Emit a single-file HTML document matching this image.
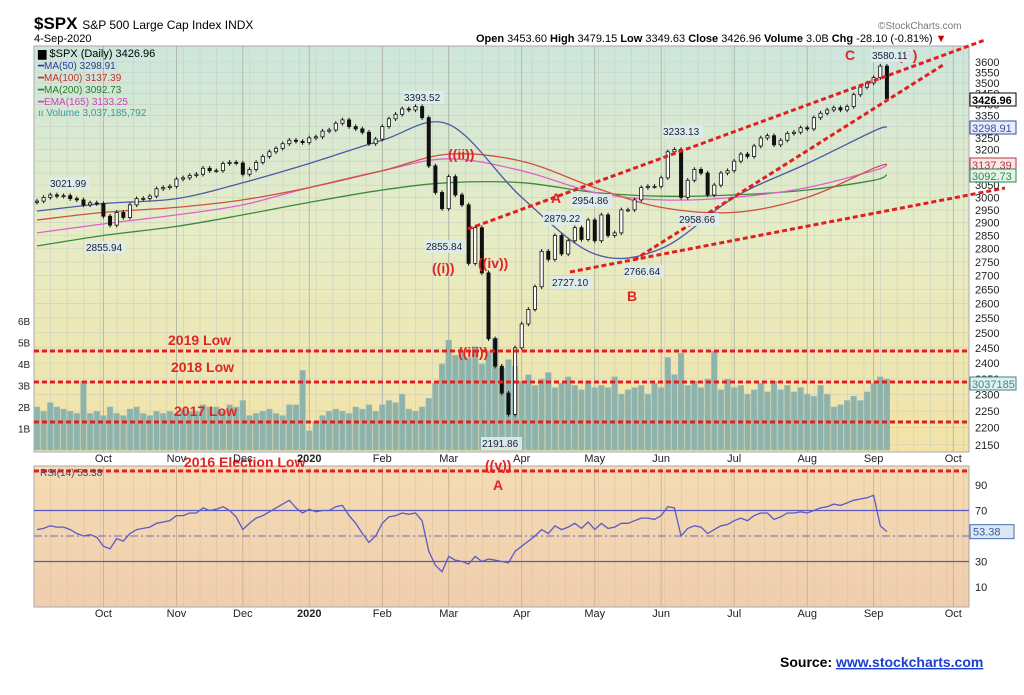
<!DOCTYPE html>
<html><head><meta charset="utf-8"><style>
body{margin:0;background:#fff;width:1024px;height:690px;overflow:hidden;font-family:"Liberation Sans",sans-serif}
svg text{font-family:"Liberation Sans",sans-serif}
</style></head><body>
<svg id="c" width="1024" height="690" viewBox="0 0 1024 690">
<defs>
<linearGradient id="gm" x1="0" y1="0" x2="0" y2="1"><stop offset="0" stop-color="#cce6dd"/><stop offset="0.45" stop-color="#e6ecc6"/><stop offset="1" stop-color="#f3e3a6"/></linearGradient>
<linearGradient id="gr" x1="0" y1="0" x2="0" y2="1"><stop offset="0" stop-color="#f4dcb4"/><stop offset="1" stop-color="#f0cdae"/></linearGradient>
</defs>
<rect x="34" y="46" width="935" height="406" fill="url(#gm)" stroke="#aaa"/>
<rect x="34" y="466" width="935" height="141" fill="url(#gr)" stroke="#aaa"/>
<g id="grid"></g><g id="vol"></g><g id="ma"></g><g id="candles"></g><g id="rsi"></g><g id="ann"></g><g id="axes"></g>
<text x="34" y="29" font-size="17" font-weight="bold">$SPX <tspan font-size="12" font-weight="normal">S&amp;P 500 Large Cap Index  INDX</tspan></text>
<text x="34" y="42" font-size="11">4-Sep-2020</text>
<text x="476" y="42" font-size="11"><tspan font-weight="bold">Open</tspan> 3453.60 <tspan font-weight="bold">High</tspan> 3479.15 <tspan font-weight="bold">Low</tspan> 3349.63 <tspan font-weight="bold">Close</tspan> 3426.96 <tspan font-weight="bold">Volume</tspan> 3.0B <tspan font-weight="bold">Chg</tspan> -28.10 (-0.81%) <tspan fill="#c00">▼</tspan></text>
<text x="878" y="29" font-size="10" fill="#777">©StockCharts.com</text>
<g font-size="11">
<text x="38" y="57" font-family="Liberation Mono" font-size="11">▆ $SPX (Daily) 3426.96</text>
<text x="38" y="69" fill="#2a3a9a" font-size="10">━MA(50) 3298.91</text>
<text x="38" y="81" fill="#c03030" font-size="10">━MA(100) 3137.39</text>
<text x="38" y="93" fill="#2a7a2a" font-size="10">━MA(200) 3092.73</text>
<text x="38" y="105" fill="#d040c0" font-size="10">━EMA(165) 3133.25</text>
<text x="38" y="116" fill="#3a9aa0" font-size="10">ıı Volume 3,037,185,792</text>
</g>
<text x="40" y="476" font-size="10" fill="#447">RSI(14) 53.38</text>
<text x="780" y="667" font-size="14" font-weight="bold">Source: <tspan fill="#1a3fd0" text-decoration="underline">www.stockcharts.com</tspan></text>
</svg>
<script>
const closes=[2985,3000,3010,3005,3007,2995,2990,2970,2978,2975,
2925,2890,2940,2920,2970,2995,2996,3005,3035,3040,3045,
3075,3080,3090,3095,3120,3110,3110,3140,3145,3142,
3095,3115,3145,3170,3190,3205,3225,3240,3235,3230,
3250,3255,3280,3285,3315,3330,3300,3290,3275,3225,3245,
3300,3335,3355,3380,3375,3390,3340,3130,3020,2955,
3085,3010,2970,2745,2880,2710,2480,2390,2305,2240,2450,
2530,2580,2660,2790,2760,2850,2780,2830,2880,2835,2910,
2830,2930,2850,2860,2950,2950,2990,3040,3045,3045,
3080,3190,3200,3000,3070,3115,3100,3010,3050,3100,3110,
3150,3180,3170,3215,3250,3260,3220,3240,3270,3275,3295,
3290,3340,3360,3375,3385,3375,3390,3445,3480,3500,
3525,3580,3427];
const volumes=[2.0,1.8,2.2,2.0,1.9,1.8,1.7,3.2,1.7,1.8,
1.6,2.0,1.7,1.6,1.9,2.0,1.7,1.6,1.8,1.7,1.8,
1.7,1.9,1.8,1.8,2.1,2.0,2.0,1.8,2.1,2.0,
2.3,1.6,1.7,1.8,1.9,1.7,1.6,2.1,2.1,3.7,
0.9,1.3,1.6,1.8,1.9,1.8,1.7,2.0,1.9,2.1,1.8,
2.1,2.3,2.2,2.6,1.9,1.8,2.0,2.4,3.1,4.0,
5.1,4.4,4.6,4.3,4.8,4.0,4.6,5.2,3.8,4.2,3.9,
3.2,3.5,3.0,3.3,3.6,2.9,3.1,3.4,3.0,2.8,3.2,
2.9,3.0,2.9,3.4,2.6,2.8,2.9,3.0,2.6,3.1,
2.9,4.3,3.5,4.5,3.0,3.2,2.9,3.3,4.6,2.8,3.3,
2.9,3.0,2.6,2.8,3.1,2.7,3.2,2.8,3.0,2.7,2.9,
2.6,2.5,3.0,2.6,2.0,2.1,2.3,2.5,2.3,2.7,
3.1,3.4,3.3];
const rsiValues=[55,56,58,57,57,55,52,50,51,49,
42,40,48,46,52,55,56,57,60,61,62,
66,66,68,68,72,70,71,73,70,65,
55,60,64,66,69,72,75,78,72,68,
71,69,70,70,73,74,66,60,52,45,50,
60,65,66,68,67,68,62,38,27,22,
34,31,30,28,34,30,32,31,30,29,38,
42,46,50,55,52,58,55,57,60,56,61,
55,60,56,57,60,60,62,64,64,63,
66,73,72,50,56,58,57,52,55,58,59,
62,64,62,66,68,68,63,65,68,68,69,
68,70,72,73,75,74,76,78,79,80,
82,58,53.4];
const maIdx=[0,10,21,31,41,52,62,73,84,94,105,116,126,128];
const ma50=[2945,2975,2995,3060,3140,3240,3310,3000,2780,2800,3000,3140,3280,3299];
const ma100=[2910,2940,2960,2990,3040,3110,3180,3150,3040,2960,2940,3000,3120,3137];
const ma200=[2810,2850,2885,2930,2980,3030,3060,3060,3020,3005,3010,3030,3070,3093];
const ema165=[2860,2895,2930,2970,3040,3110,3160,3110,3020,2990,3000,3040,3110,3133];
const priceTicks=[3600,3550,3500,3450,3400,3350,3300,3250,3200,3150,3100,3050,3000,2950,2900,2850,2800,2750,2700,2650,2600,2550,2500,2450,2400,2350,2300,2250,2200,2150];
const volTicks=[1,2,3,4,5,6];
const rsiTicks=[90,70,30,10];
const months=["Oct","Nov","Dec","2020","Feb","Mar","Apr","May","Jun","Jul","Aug","Sep","Oct"];
const monthIdx=[10,21,31,41,52,62,73,84,94,105,116,126,138];

const NS="http://www.w3.org/2000/svg";
const X0=37,STEP=6.64;
const xs=i=>X0+i*STEP;
const py=p=>62+(Math.log10(3600)-Math.log10(p))*1710;
const vy=v=>450-v*21.5;
const ry=v=>485+(90-v)*1.275;
function mk(tag,attrs,parent,txt){const e=document.createElementNS(NS,tag);for(const k in attrs)e.setAttribute(k,attrs[k]);if(txt!==undefined)e.textContent=txt;document.getElementById(parent).appendChild(e);return e;}

// grid
for(let x=34+16.6;x<969;x+=16.6){mk('line',{x1:x,y1:46,x2:x,y2:452,stroke:'#c9cfc0','stroke-width':0.6},'grid');mk('line',{x1:x,y1:466,x2:x,y2:607,stroke:'#dcc2a4','stroke-width':0.6},'grid');}
priceTicks.forEach(t=>{const y=py(t);
 mk('line',{x1:34,y1:y,x2:969,y2:y,stroke:'#c9cfc0','stroke-width':0.6},'grid');
 const tx=mk('text',{x:975,y:y+4,'font-size':11,fill:'#222'},'axes',t);
 
 });
monthIdx.forEach((mi,k)=>{const x=xs(mi);
 mk('line',{x1:x,y1:46,x2:x,y2:452,stroke:'#a9b0a0','stroke-width':0.8},'grid');
 mk('line',{x1:x,y1:466,x2:x,y2:607,stroke:'#c8ab90','stroke-width':0.8},'grid');
 [462,617].forEach(yy=>{const t=mk('text',{x:x,y:yy,'font-size':11,'text-anchor':'middle',fill:'#222','font-weight':months[k]==='2020'?'bold':'normal'},'axes',months[k]);
 
 });});
volTicks.forEach(v=>{const t=mk('text',{x:18,y:vy(v)+4,'font-size':10,fill:'#222'},'axes',v+'B');
 
 });
rsiTicks.forEach(v=>{const t=mk('text',{x:975,y:ry(v)+4,'font-size':11,fill:'#222'},'axes',v);
 
 });

// volume
volumes.forEach((v,i)=>{const r=mk('rect',{x:xs(i)-2.8,y:vy(v),width:5.6,height:450-vy(v),fill:'#8fb3ab',stroke:'#9dbdb5','stroke-width':0.6},'vol');
 
 });

// moving averages (smooth curve through points)
function maLine(arr,color,name){const pts=arr.map((v,k)=>[xs(maIdx[k]),py(v)]);
 let d='M'+pts[0][0].toFixed(1)+','+pts[0][1].toFixed(1);
 for(let k=0;k<pts.length-1;k++){const p0=pts[Math.max(0,k-1)],p1=pts[k],p2=pts[k+1],p3=pts[Math.min(pts.length-1,k+2)];
  const c1=[p1[0]+(p2[0]-p0[0])/6,p1[1]+(p2[1]-p0[1])/6],c2=[p2[0]-(p3[0]-p1[0])/6,p2[1]-(p3[1]-p1[1])/6];
  d+='C'+c1[0].toFixed(1)+','+c1[1].toFixed(1)+' '+c2[0].toFixed(1)+','+c2[1].toFixed(1)+' '+p2[0].toFixed(1)+','+p2[1].toFixed(1);}
 const p=mk('path',{d:d,fill:'none',stroke:color,'stroke-width':1.3},'ma');
 
 }
maLine(ma200,'#3a8a3a','ma200-line');maLine(ema165,'#e060d0','ema165-line');maLine(ma100,'#d05040','ma100-line');maLine(ma50,'#4a5aa8','ma50-line');

// candles
closes.forEach((c,i)=>{const o=i?closes[i-1]:c-5;const hi=Math.max(o,c)*1.003,lo=Math.min(o,c)*0.997;const x=xs(i);
 const w=mk('line',{x1:x,y1:py(hi),x2:x,y2:py(lo),stroke:'#111','stroke-width':1},'candles');
 
 
 const top=py(Math.max(o,c)),bot=py(Math.min(o,c));
 const b=mk('rect',{x:x-1.6,y:top,width:3.2,height:Math.max(1,bot-top),fill:c>=o?'#fff':'#111',stroke:'#111','stroke-width':0.8},'candles');
 
 });

// rsi
mk('line',{x1:34,y1:ry(70),x2:969,y2:ry(70),stroke:'#5a5ac0','stroke-width':1.2},'rsi');
mk('line',{x1:34,y1:ry(30),x2:969,y2:ry(30),stroke:'#5a5ac0','stroke-width':1.2},'rsi');
mk('line',{x1:34,y1:ry(50),x2:969,y2:ry(50),stroke:'#6a6ac0','stroke-width':1,'stroke-dasharray':'8,3,2,3'},'rsi');
let rd='';rsiValues.forEach((v,i)=>{rd+=(i?'L':'M')+xs(i).toFixed(1)+','+ry(v).toFixed(1);});
const rl=mk('path',{d:rd,fill:'none',stroke:'#5a5ac8','stroke-width':1.3},'rsi');


mk('rect',{x:970,y:ry(53.4)-7,width:44,height:14,fill:'#dbe9f5',stroke:'#4a6ab0'},'rsi');
mk('text',{x:973,y:ry(53.4)+4,'font-size':11,fill:'#3a5aa0'},'rsi','53.38');

// annotations
function dash(x1,y1,x2,y2,name){const l=mk('line',{x1:x1,y1:y1,x2:x2,y2:y2,stroke:'#e02020','stroke-width':3,'stroke-dasharray':'5,3'},'ann');
 
 }
dash(34,351,969,351,'low-2019-line');dash(34,382,969,382,'low-2018-line');dash(34,422,969,422,'low-2017-line');dash(34,471,969,471,'election-low-line');
dash(468,229,985,40,'upper-channel-line');dash(634,260,943,65,'middle-channel-line');dash(570,272,1005,188,'lower-channel-line');
[["2019 Low",168,345],["2018 Low",171,372],["2017 Low",174,416],["2016 Election Low",184,467],["((i))",432,273],["((ii))",448,159],["((iii))",458,357],["((iv))",478,268],["((v))",485,470],["A",493,490],["A",551,203],["B",627,301],["C",845,60],["(B)",898,60]].forEach(a=>{
 const t=mk('text',{x:a[1],y:a[2],'font-size':14,'font-weight':'bold',fill:'#e02525'},'ann',a[0]);
 
 });
[["3021.99",50,187],["2855.94",86,251],["3393.52",404,101],["2855.84",426,250],["2879.22",544,222],["2954.86",572,204],["2727.10",552,286],["2766.64",624,275],["3233.13",663,135],["2958.66",679,223],["3580.11",872,59],["2191.86",482,447]].forEach(a=>{
 mk('rect',{x:a[1]-1,y:a[2]-10,width:41,height:13,fill:'#dcecef',opacity:0.9},'ann');
 const t=mk('text',{x:a[1],y:a[2],'font-size':10,fill:'#223'},'ann',a[0]);
 
 });
[["3426.96",100,'#000','#fff',true],["3298.91",128,'#3a4ab0','#e8eef8',false],["3137.39",165,'#c03040','#f8e8ea',false],["3092.73",176,'#2a8a4a','#e4f4ea',false],["3037185",384,'#3a8a8a','#e0f0ee',false]].forEach(a=>{
 mk('rect',{x:970,y:a[1]-7,width:46,height:13,fill:a[3],stroke:a[2]},'axes');
 const t=mk('text',{x:972,y:a[1]+4,'font-size':11,fill:a[2],'font-weight':a[4]?'bold':'normal'},'axes',a[0]);
 
 });
</script>
</body></html>
